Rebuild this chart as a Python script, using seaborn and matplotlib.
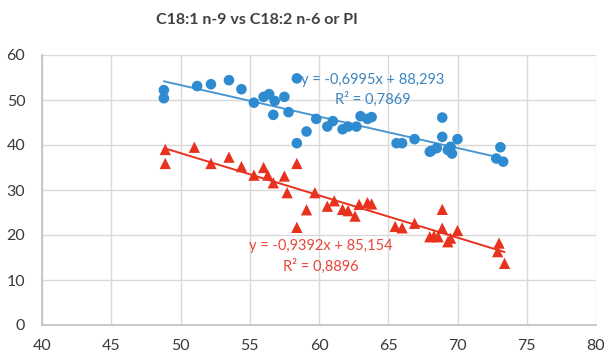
import matplotlib
matplotlib.use("Agg")
import matplotlib.pyplot as plt
import seaborn as sns
import numpy as np
import pandas as pd

# C18:1 n-9 (x) vs C18:2 n-6 (blue circles)
x_n6 = [48.8, 48.8, 51.2, 52.2, 53.5, 54.4, 55.3, 56.0, 56.4, 56.8, 56.7, 57.5, 57.8,
        58.4, 58.4, 59.1, 59.8, 60.6, 61.0, 61.7, 62.1, 62.7, 63.0, 63.5, 63.8, 65.6,
        66.0, 66.9, 68.0, 68.9, 68.9, 68.1, 68.5, 69.5, 69.6, 70.0, 69.3, 73.1, 72.8, 73.3]
y_n6 = [52.2, 50.4, 53.1, 53.5, 54.4, 52.4, 49.4, 50.7, 51.3, 49.8, 46.7, 50.7, 47.3,
        54.8, 40.4, 43.0, 45.8, 44.1, 45.3, 43.5, 44.1, 44.1, 46.4, 45.8, 46.2, 40.4,
        40.4, 41.3, 38.5, 46.1, 41.8, 38.7, 39.3, 39.6, 38.1, 41.3, 38.9, 39.5, 37.0, 36.3]

# C18:1 n-9 (x) vs PI (red triangles)
x_pi = [48.9, 48.9, 51.0, 52.2, 53.5, 54.4, 55.3, 56.0, 56.3, 56.7, 57.5, 58.4, 57.7,
        59.7, 59.1, 58.4, 60.6, 61.1, 61.7, 62.1, 62.6, 62.9, 63.5, 63.8, 65.5, 66.0,
        66.9, 68.0, 68.9, 68.9, 68.3, 68.6, 69.5, 69.3, 70.0, 73.0, 72.9, 73.4]
y_pi = [39.0, 35.9, 39.5, 35.9, 37.3, 35.2, 33.3, 35.0, 33.3, 31.6, 33.1, 35.9, 29.4,
        29.4, 25.6, 21.7, 26.4, 27.6, 25.7, 25.4, 24.2, 26.8, 27.2, 26.9, 21.9, 21.6,
        22.6, 19.6, 25.7, 21.5, 19.8, 19.6, 19.3, 18.5, 21.0, 18.2, 16.3, 13.7]

# trendline coefficients (slope, intercept) and labels
fit_n6 = (-0.6995, 88.293)
fit_pi = (-0.9392, 85.154)
label_n6 = "y = -0,6995x + 88,293\nR² = 0,7869"
label_pi = "y = -0,9392x + 85,154\nR² = 0,8896"

blue = "#2E8BD0"
blue_line = "#4A97D2"
blue_text = "#3C84BE"
red = "#E8321E"
red_text = "#E5473A"

sns.set_style("white")
plt.rcParams["font.family"] = ["Lato", "DejaVu Sans"]

fig = plt.figure(figsize=(6.05, 3.54), dpi=100)
ax = fig.add_axes([42 / 605, 29 / 354, 554 / 605, 270 / 354])

df_n6 = pd.DataFrame({"x": x_n6, "y": y_n6})
df_pi = pd.DataFrame({"x": x_pi, "y": y_pi})

# trendlines over the data range
for df, (m, b), col in [(df_n6, fit_n6, blue_line), (df_pi, fit_pi, red)]:
    xs = np.array([df.x.min(), df.x.max()])
    sns.lineplot(x=xs, y=m * xs + b, color=col, lw=1.4, ax=ax, zorder=2)

sns.scatterplot(data=df_n6, x="x", y="y", marker="o", s=58, color=blue,
                edgecolor="none", ax=ax, zorder=3)
sns.scatterplot(data=df_pi, x="x", y="y", marker="^", s=66, color=red,
                edgecolor="none", ax=ax, zorder=3)

ax.set_xlim(40, 80)
ax.set_ylim(0, 60)
ax.set_xticks(range(40, 81, 5))
ax.set_yticks(range(0, 61, 10))
ax.set_xlabel("")
ax.set_ylabel("")
ax.grid(True, color="#D9D9D9", lw=1)
ax.set_axisbelow(True)
for s in ["top", "right"]:
    ax.spines[s].set_visible(False)
for s in ["left", "bottom"]:
    ax.spines[s].set_color("#BFBFBF")
    ax.spines[s].set_linewidth(1.2)
ax.tick_params(axis="both", length=0, labelsize=11.5, colors="#3A3A3A")
ax.tick_params(axis="y", pad=12)
ax.tick_params(axis="x", pad=10)

ax.text(63.9, 52.2, label_n6, color=blue_text, fontsize=10.5, ha="center",
        va="center", linespacing=1.45)
ax.text(60.1, 15.2, label_pi, color=red_text, fontsize=10.5, ha="center",
        va="center", linespacing=1.45)

fig.text(257 / 605, 1 - 20 / 354, "C18:1 n-9 vs C18:2 n-6 or PI", ha="center",
         va="center", fontsize=11.5, fontweight="bold", color="#404040")

fig.savefig("out.png", dpi=100)
